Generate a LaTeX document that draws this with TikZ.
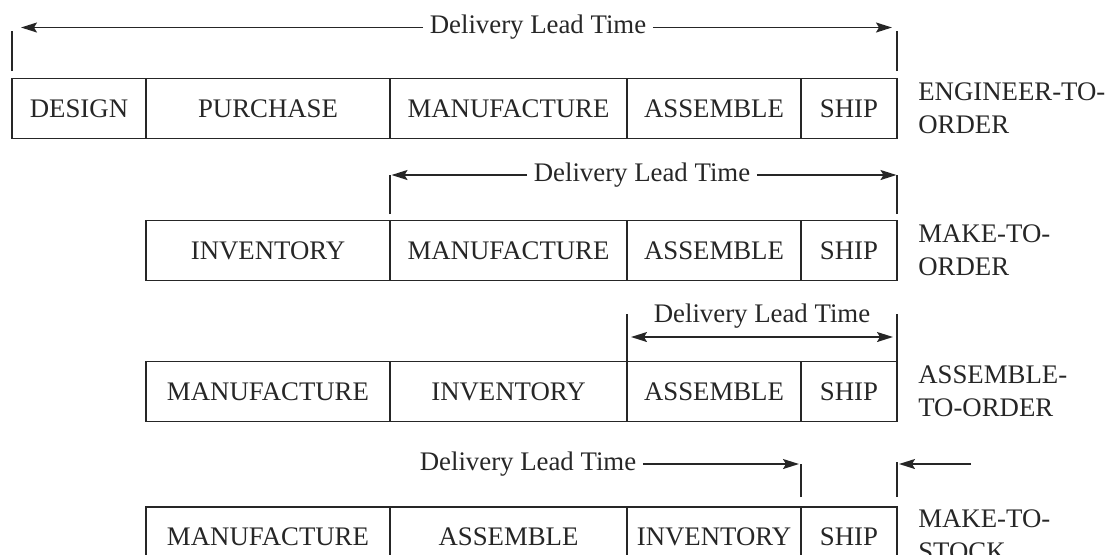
\documentclass[tikz,border=0pt]{standalone}
\usepackage{fontspec}
\setmainfont{Liberation Serif}
\usetikzlibrary{arrows.meta,positioning}

\begin{document}
\begin{tikzpicture}[x=0.5pt, y=-0.5pt, >={Stealth[length=8pt,width=5pt,inset=1.5pt]},
    line width=0.8pt, color=black!85,
    every node/.style={font=\fontsize{13.4}{16.5}\selectfont},
    cell/.style={rectangle, draw, minimum height=30pt, inner sep=0pt, outer sep=0pt},
    tag/.style={align=left, anchor=west, inner sep=0pt},
    lead/.style={inner sep=3pt}]
    \useasboundingbox (0,0) rectangle (1115,554);
    \clip (0,0) rectangle (1115,554);

    % Engineer-to-order
    \node (design1) [cell, minimum width=67pt] at (79,108.5) {DESIGN};
    \node (purchase1) [cell, minimum width=122pt, right=0pt of design1] {PURCHASE};
    \node (manuf1) [cell, minimum width=118.5pt, right=0pt of purchase1] {MANUFACTURE};
    \node (assem1) [cell, minimum width=87pt, right=0pt of manuf1] {ASSEMBLE};
    \node (ship1) [cell, minimum width=48pt, right=0pt of assem1] {SHIP};
    \node (eto) [tag, right=10.25pt of ship1] {ENGINEER-TO-\\ORDER};

    % Make-to-order
    \node (inv2) [cell, minimum width=122pt] at (268,250.5) {INVENTORY};
    \node (manuf2) [cell, minimum width=118.5pt, right=0pt of inv2] {MANUFACTURE};
    \node (assem2) [cell, minimum width=87pt, right=0pt of manuf2] {ASSEMBLE};
    \node (ship2) [cell, minimum width=48pt, right=0pt of assem2] {SHIP};
    \node (mto) [tag, right=10.25pt of ship2] {MAKE-TO-\\ORDER};

    % Assemble-to-order
    \node (manuf3) [cell, minimum width=122pt] at (268,391.5) {MANUFACTURE};
    \node (inv3) [cell, minimum width=118.5pt, right=0pt of manuf3] {INVENTORY};
    \node (assem3) [cell, minimum width=87pt, right=0pt of inv3] {ASSEMBLE};
    \node (ship3) [cell, minimum width=48pt, right=0pt of assem3] {SHIP};
    \node (ato) [tag, right=10.25pt of ship3] {ASSEMBLE-\\TO-ORDER};

    % Make-to-stock
    \node (manuf4) [cell, minimum width=122pt] at (268,537) {MANUFACTURE};
    \node (assem4) [cell, minimum width=118.5pt, right=0pt of manuf4] {ASSEMBLE};
    \node (inv4) [cell, minimum width=87pt, right=0pt of assem4] {INVENTORY};
    \node (ship4) [cell, minimum width=48pt, right=0pt of inv4] {SHIP};
    \node (mts) [tag, right=10.25pt of ship4, yshift=1pt] {MAKE-TO-\\STOCK};

    % Lead time markers
    \node (lead1) [lead] at (538,27.5) {Delivery Lead Time};
    \coordinate (tip1l) at (21,27.5);
    \coordinate (tip1r) at (892,27.5);
    \draw[->] (lead1) -- (tip1l);
    \draw[->] (lead1) -- (tip1r);
    \draw ([yshift=3.75pt]design1.north west) -- ++(0,-40);
    \draw ([yshift=3.75pt]ship1.north east) -- ++(0,-40);

    \node (lead2) [lead] at (642,175) {Delivery Lead Time};
    \coordinate (tip2l) at (391.5,175);
    \coordinate (tip2r) at (896.5,175);
    \draw[->] (lead2) -- (tip2l);
    \draw[->] (lead2) -- (tip2r);
    \draw ([yshift=3.25pt]manuf2.north west) -- ++(0,-39.5);
    \draw ([yshift=3.25pt]ship2.north east) -- ++(0,-39.5);

    \node (lead3) [lead] at (762,316) {Delivery Lead Time};
    \coordinate (tip3l) at (631,337);
    \coordinate (tip3r) at (893,337);
    \draw[<->] (tip3l) -- (tip3r);
    \draw (assem3.north west) -- ++(0,-48);
    \draw (ship3.north east) -- ++(0,-48);

    \node (lead4) [lead] at (528,464) {Delivery Lead Time};
    \coordinate (tip4l) at (799,464);
    \coordinate (tip4r) at (899,464);
    \coordinate (from4) at (971,464);
    \draw[->] (lead4) -- (tip4l);
    \draw[->] (from4) -- (tip4r);
    \draw ([yshift=5pt]ship4.north west) -- ++(0,-33);
    \draw ([yshift=5pt]ship4.north east) -- ++(0,-35);
\end{tikzpicture}
\end{document}
